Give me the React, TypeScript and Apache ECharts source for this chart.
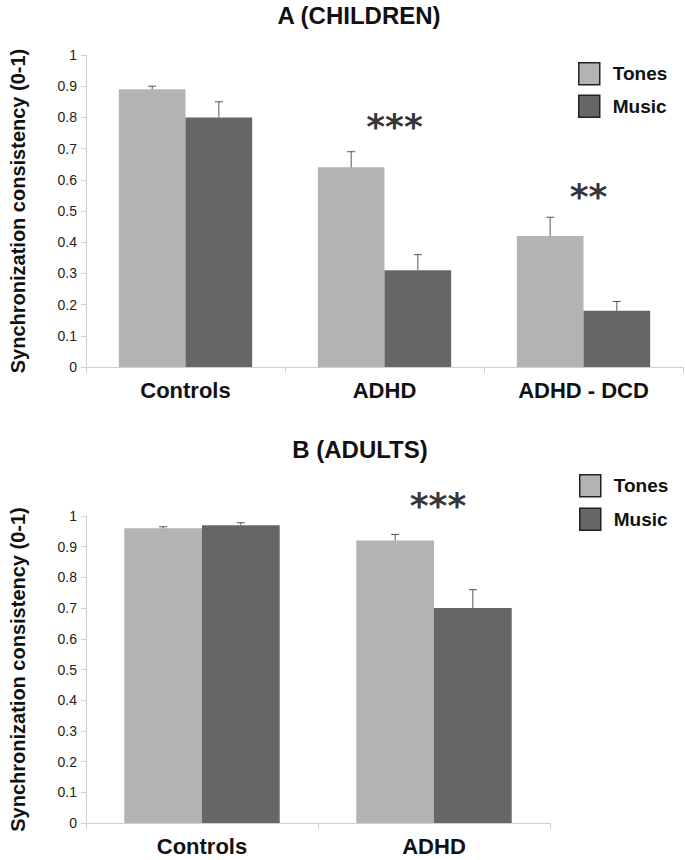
import React, { useEffect, useRef } from "react";
import * as echarts from "echarts";

// ---- data ----
const catsA = ["Controls", "ADHD", "ADHD - DCD"];
const tonesA = [0.89, 0.64, 0.42];
const tonesErrA = [0.01, 0.05, 0.06];
const musicA = [0.8, 0.31, 0.18];
const musicErrA = [0.05, 0.05, 0.03];
const starsA = ["***", "**"];
const starsCatA = ["ADHD", "ADHD - DCD"];
const starsValA = [0.804, 0.579];

const catsB = ["Controls", "ADHD"];
const tonesB = [0.96, 0.92];
const tonesErrB = [0.005, 0.02];
const musicB = [0.97, 0.7];
const musicErrB = [0.008, 0.06];
const starsB = ["***"];
const starsCatB = ["ADHD"];
const starsValB = [1.068];

const seriesNames = ["Tones", "Music"];
const titleA = "A (CHILDREN)";
const titleB = "B (ADULTS)";
const yName = "Synchronization consistency (0-1)";

// ---- styles ----
const FONT = "Liberation Sans";
const TONES_COLOR = "#b3b3b3";
const MUSIC_COLOR = "#666666";
const AXIS_COLOR = "#cfcfcf";
const GAP = 0.33;
const starOffsetA = [[10, 10], [5, 10]];
const starOffsetB = [[4, 10]];

function errSeries(name: string, gi: number, vals: number[], errs: number[], side: number) {
  return {
    type: "custom",
    name,
    xAxisIndex: gi,
    yAxisIndex: gi,
    z: 5,
    encode: { x: 0, y: 1 },
    data: vals.map((v, i) => [i, v, errs[i]]),
    renderItem: (params: any, api: any) => {
      const x = api.value(0);
      const v = api.value(1);
      const e = api.value(2);
      const base = api.coord([x, v]);
      const top = api.coord([x, v + e]);
      const band = api.size([1, 0])[0];
      const bw = (band * (1 - GAP)) / 2;
      const cx = base[0] + (side * bw) / 2;
      const st = { stroke: "#555555", lineWidth: 1 };
      return {
        type: "group",
        children: [
          { type: "line", shape: { x1: cx, y1: base[1], x2: cx, y2: top[1] }, style: st },
          { type: "line", shape: { x1: cx - 4, y1: top[1], x2: cx + 4, y2: top[1] }, style: st },
        ],
      };
    },
  };
}

function starSeries(gi: number, cats: string[], vals: number[], texts: string[], offs: number[][]) {
  return {
    type: "scatter",
    xAxisIndex: gi,
    yAxisIndex: gi,
    symbolSize: 0,
    clip: false,
    silent: true,
    z: 6,
    data: cats.map((c, i) => ({
      value: [c, vals[i]],
      label: {
        show: true,
        position: "inside",
        formatter: texts[i],
        offset: offs[i],
        fontFamily: "DejaVu Sans",
        fontWeight: "bold",
        fontSize: 36,
        color: "#000000",
      },
    })),
  };
}

function xAxis(gi: number, cats: string[]) {
  return {
    type: "category",
    gridIndex: gi,
    data: cats,
    axisLine: { lineStyle: { color: AXIS_COLOR, width: 1 } },
    axisTick: { show: true, length: 6, lineStyle: { color: AXIS_COLOR } },
    axisLabel: {
      margin: 12,
      fontFamily: FONT,
      fontWeight: "bold",
      fontSize: 22,
      color: "#111111",
    },
  };
}

function yAxis(gi: number) {
  return {
    type: "value",
    gridIndex: gi,
    min: 0,
    max: 1,
    interval: 0.1,
    name: yName,
    nameLocation: "middle",
    nameRotate: 90,
    nameGap: 58,
    nameTextStyle: { fontFamily: FONT, fontWeight: "bold", fontSize: 20, color: "#111111" },
    axisLine: { show: true, lineStyle: { color: AXIS_COLOR, width: 1 } },
    axisTick: { show: true, length: 5, lineStyle: { color: AXIS_COLOR } },
    splitLine: { show: false },
    axisLabel: { margin: 9, fontFamily: FONT, fontSize: 14, color: "#222222" },
  };
}

function legend(top: number, left: number, gap: number) {
  return {
    top,
    left,
    orient: "vertical",
    padding: 0,
    itemWidth: 21,
    itemHeight: 22,
    itemGap: gap,
    selectedMode: false,
    textStyle: { fontFamily: FONT, fontWeight: "bold", fontSize: 19, color: "#111111", padding: [0, 0, 0, 8] },
    data: seriesNames.map((n) => ({
      name: n,
      icon: "rect",
      itemStyle: { borderColor: "#222222", borderWidth: 1.5 },
    })),
  };
}

export default function App() {
  const ref = useRef<HTMLDivElement>(null);
  useEffect(() => {
    document.body.style.margin = "0";
    if (!ref.current) return;
    const chart = echarts.init(ref.current, null, { renderer: "svg" });
    const barBase = { type: "bar", barGap: "0%", barCategoryGap: "33%" };
    chart.setOption({
      animation: false,
      backgroundColor: "#ffffff",
      grid: [
        { left: 77, top: 55, width: 606, height: 312, containLabel: false },
        { left: 79, top: 516, width: 471, height: 307, containLabel: false },
      ],
      xAxis: [xAxis(0, catsA), xAxis(1, catsB)],
      yAxis: [yAxis(0), yAxis(1)],
      legend: [legend(62, 578, 9), legend(474, 579, 10)],
      graphic: [
        {
          type: "text",
          x: 359,
          y: 15,
          style: { text: titleA, fontFamily: FONT, fontWeight: "bold", fontSize: 24, fill: "#111111", align: "center", verticalAlign: "middle" },
        },
        {
          type: "text",
          x: 360,
          y: 449,
          style: { text: titleB, fontFamily: FONT, fontWeight: "bold", fontSize: 24, fill: "#111111", align: "center", verticalAlign: "middle" },
        },
      ],
      series: [
        { ...barBase, name: seriesNames[0], xAxisIndex: 0, yAxisIndex: 0, data: tonesA, itemStyle: { color: TONES_COLOR } },
        { ...barBase, name: seriesNames[1], xAxisIndex: 0, yAxisIndex: 0, data: musicA, itemStyle: { color: MUSIC_COLOR } },
        { ...barBase, name: seriesNames[0], xAxisIndex: 1, yAxisIndex: 1, data: tonesB, itemStyle: { color: TONES_COLOR } },
        { ...barBase, name: seriesNames[1], xAxisIndex: 1, yAxisIndex: 1, data: musicB, itemStyle: { color: MUSIC_COLOR } },
        errSeries("errTonesA", 0, tonesA, tonesErrA, -1),
        errSeries("errMusicA", 0, musicA, musicErrA, 1),
        errSeries("errTonesB", 1, tonesB, tonesErrB, -1),
        errSeries("errMusicB", 1, musicB, musicErrB, 1),
        starSeries(0, starsCatA, starsValA, starsA, starOffsetA),
        starSeries(1, starsCatB, starsValB, starsB, starOffsetB),
      ],
    });
    return () => chart.dispose();
  }, []);
  return <div ref={ref} style={{ width: 685, height: 860 }} />;
}
